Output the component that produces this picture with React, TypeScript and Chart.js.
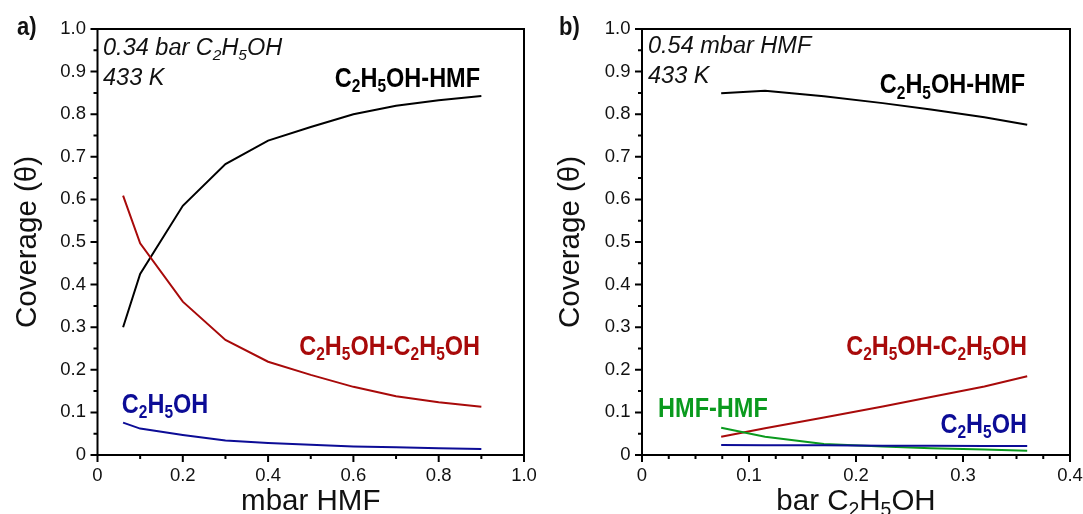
import React, { useEffect, useRef } from "react";
import { Chart, registerables } from "chart.js";
Chart.register(...registerables);

const FONT = '"Liberation Sans", Arial, Helvetica, sans-serif';

// ---------- Panel a: 0.34 bar C2H5OH, 433 K ----------
const hmfPressure = [0.06, 0.1, 0.2, 0.3, 0.4, 0.5, 0.6, 0.7, 0.8, 0.9];
const aEtohHmf = [0.3, 0.425, 0.585, 0.683, 0.738, 0.77, 0.8, 0.82, 0.833, 0.843];
const aEtohEtoh = [0.609, 0.497, 0.36, 0.27, 0.219, 0.188, 0.16, 0.138, 0.124, 0.113];
const aEtoh = [0.076, 0.062, 0.047, 0.034, 0.028, 0.024, 0.02, 0.018, 0.016, 0.014];

// ---------- Panel b: 0.54 mbar HMF, 433 K ----------
const etohPressure = [0.074, 0.115, 0.17, 0.225, 0.27, 0.32, 0.36];
const bEtohHmf = [0.849, 0.855, 0.842, 0.826, 0.811, 0.793, 0.775];
const bEtohEtoh = [0.043, 0.063, 0.088, 0.114, 0.136, 0.161, 0.185];
const bHmfHmf = [0.064, 0.043, 0.026, 0.02, 0.016, 0.013, 0.01];
const bEtoh = [0.0235, 0.023, 0.023, 0.022, 0.022, 0.021, 0.021];

// ---------- Tick labels ----------
const yTickValues = [0, 0.1, 0.2, 0.3, 0.4, 0.5, 0.6, 0.7, 0.8, 0.9, 1.0];
const yTickLabels = ["0", "0.1", "0.2", "0.3", "0.4", "0.5", "0.6", "0.7", "0.8", "0.9", "1.0"];
const aXTickValues = [0, 0.2, 0.4, 0.6, 0.8, 1.0];
const aXTickLabels = ["0", "0.2", "0.4", "0.6", "0.8", "1.0"];
const bXTickValues = [0, 0.1, 0.2, 0.3, 0.4];
const bXTickLabels = ["0", "0.1", "0.2", "0.3", "0.4"];

const BLACK = "#000000";
const RED = "#a80a0a";
const BLUE = "#0c0c96";
const GREEN = "#0a9a1e";

type Note = {
  text: string;
  x: number;
  y: number;
  align: "left" | "right";
  color: string;
  size: number;
  bold?: boolean;
  italic?: boolean;
  sx?: number;
};

function drawRich(
  ctx: CanvasRenderingContext2D,
  text: string,
  x: number,
  y: number,
  size: number,
  color: string,
  align: "left" | "right" | "center",
  bold = false,
  italic = false,
  sx = 1
) {
  const segs: { t: string; sub: boolean }[] = [];
  for (let i = 0; i < text.length; i++) {
    const c = text[i];
    if (c === "_" && i + 1 < text.length) {
      segs.push({ t: text[i + 1], sub: true });
      i++;
    } else {
      const last = segs[segs.length - 1];
      if (last && !last.sub) last.t += c;
      else segs.push({ t: c, sub: false });
    }
  }
  const fontFor = (sub: boolean) =>
    `${italic ? "italic " : ""}${bold ? "bold " : ""}${sub ? size * 0.66 : size}px ${FONT}`;
  let total = 0;
  const widths = segs.map((s) => {
    ctx.font = fontFor(s.sub);
    const w = ctx.measureText(s.t).width;
    total += w;
    return w;
  });
  const scaled = total * sx;
  const start = align === "left" ? x : align === "right" ? x - scaled : x - scaled / 2;
  ctx.save();
  ctx.translate(start, y);
  ctx.scale(sx, 1);
  ctx.fillStyle = color;
  ctx.textBaseline = "alphabetic";
  ctx.textAlign = "left";
  let cx = 0;
  segs.forEach((s, i) => {
    ctx.font = fontFor(s.sub);
    ctx.fillText(s.t, cx, s.sub ? size * 0.2 : 0);
    cx += widths[i];
  });
  ctx.restore();
}

type PanelCfg = {
  canvasWidth: number;
  yAxisWidth: number;
  padRight: number;
  xMax: number;
  xTickValues: number[];
  xTickLabels: string[];
  xMinorStep: number;
  xMajorEvery: number;
  xTitle: string;
  yTitleX: number;
  panelLabel: string;
  panelLabelX: number;
  series: { xs: number[]; ys: number[]; color: string }[];
  notes: Note[];
};

const LBL = 28;
const NARROW = 0.84;

const panelA: PanelCfg = {
  canvasWidth: 540,
  yAxisWidth: 97.5,
  padRight: 16,
  xMax: 1.0,
  xTickValues: aXTickValues,
  xTickLabels: aXTickLabels,
  xMinorStep: 0.1,
  xMajorEvery: 2,
  xTitle: "mbar HMF",
  yTitleX: 36,
  panelLabel: "a)",
  panelLabelX: 17,
  series: [
    { xs: hmfPressure, ys: aEtoh, color: BLUE },
    { xs: hmfPressure, ys: aEtohEtoh, color: RED },
    { xs: hmfPressure, ys: aEtohHmf, color: BLACK },
  ],
  notes: [
    { text: "0.34 bar C_2H_5OH", x: 0.013, y: 0.939, align: "left", color: "#111", size: 23.5, italic: true },
    { text: "433 K", x: 0.013, y: 0.8685, align: "left", color: "#111", size: 23.5, italic: true },
    { text: "C_2H_5OH-HMF", x: 0.897, y: 0.865, align: "right", color: BLACK, size: LBL, bold: true, sx: NARROW },
    { text: "C_2H_5OH-C_2H_5OH", x: 0.897, y: 0.235, align: "right", color: RED, size: LBL, bold: true, sx: NARROW },
    { text: "C_2H_5OH", x: 0.057, y: 0.099, align: "left", color: BLUE, size: LBL, bold: true, sx: NARROW },
  ],
};

const panelB: PanelCfg = {
  canvasWidth: 543,
  yAxisWidth: 102,
  padRight: 13,
  xMax: 0.4,
  xTickValues: bXTickValues,
  xTickLabels: bXTickLabels,
  xMinorStep: 0.025,
  xMajorEvery: 4,
  xTitle: "bar C_2H_5OH",
  yTitleX: 39,
  panelLabel: "b)",
  panelLabelX: 19,
  series: [
    { xs: etohPressure, ys: bEtoh, color: BLUE },
    { xs: etohPressure, ys: bHmfHmf, color: GREEN },
    { xs: etohPressure, ys: bEtohEtoh, color: RED },
    { xs: etohPressure, ys: bEtohHmf, color: BLACK },
  ],
  notes: [
    { text: "0.54 mbar HMF", x: 0.0056, y: 0.9437, align: "left", color: "#111", size: 23.5, italic: true },
    { text: "433 K", x: 0.0056, y: 0.873, align: "left", color: "#111", size: 23.5, italic: true },
    { text: "C_2H_5OH-HMF", x: 0.358, y: 0.85, align: "right", color: BLACK, size: LBL, bold: true, sx: NARROW },
    { text: "C_2H_5OH-C_2H_5OH", x: 0.3598, y: 0.235, align: "right", color: RED, size: LBL, bold: true, sx: NARROW },
    { text: "HMF-HMF", x: 0.015, y: 0.089, align: "left", color: GREEN, size: LBL, bold: true, sx: NARROW },
    { text: "C_2H_5OH", x: 0.3598, y: 0.052, align: "right", color: BLUE, size: LBL, bold: true, sx: NARROW },
  ],
};

function Panel({ cfg, left }: { cfg: PanelCfg; left: number }) {
  const ref = useRef<HTMLCanvasElement | null>(null);
  useEffect(() => {
    if (!ref.current) return;
    const decor = {
      id: "decor",
      afterDraw(chart: any) {
        const ctx: CanvasRenderingContext2D = chart.ctx;
        const a = chart.chartArea;
        const xs = chart.scales.x;
        const ys = chart.scales.y;
        ctx.save();
        // ticks
        ctx.strokeStyle = "#000";
        ctx.lineWidth = 2;
        ctx.beginPath();
        for (let i = 0; i <= 20; i++) {
          const py = ys.getPixelForValue(i * 0.05);
          const len = i % 2 === 0 ? 7 : 4;
          ctx.moveTo(a.left, py);
          ctx.lineTo(a.left - len, py);
        }
        const n = Math.round(cfg.xMax / cfg.xMinorStep);
        for (let i = 0; i <= n; i++) {
          const px = xs.getPixelForValue(i * cfg.xMinorStep);
          const len = i % cfg.xMajorEvery === 0 ? 7 : 4;
          ctx.moveTo(px, a.bottom);
          ctx.lineTo(px, a.bottom + len);
        }
        ctx.stroke();
        // frame
        ctx.lineWidth = 2;
        ctx.strokeRect(a.left, a.top, a.right - a.left, a.bottom - a.top);
        // notes
        cfg.notes.forEach((nt) => {
          drawRich(
            ctx,
            nt.text,
            xs.getPixelForValue(nt.x),
            ys.getPixelForValue(nt.y),
            nt.size,
            nt.color,
            nt.align,
            !!nt.bold,
            !!nt.italic,
            nt.sx ?? 1
          );
        });
        // axis titles
        drawRich(ctx, cfg.xTitle, (a.left + a.right) / 2, 510, 29.5, "#111", "center");
        ctx.save();
        ctx.translate(cfg.yTitleX, (a.top + a.bottom) / 2);
        ctx.rotate(-Math.PI / 2);
        drawRich(ctx, "Coverage (θ)", 0, 0, 29.5, "#111", "center");
        ctx.restore();
        // panel label
        drawRich(ctx, cfg.panelLabel, cfg.panelLabelX, 35, 25, "#111", "left", true, false, 0.88);
        ctx.restore();
      },
    };
    const chart = new Chart(ref.current, {
      type: "line",
      data: {
        datasets: cfg.series.map((s) => ({
          data: s.xs.map((x, i) => ({ x, y: s.ys[i] })),
          borderColor: s.color,
          backgroundColor: s.color,
          borderWidth: 2,
          pointRadius: 0,
          fill: false,
          tension: 0,
        })),
      },
      options: {
        responsive: false,
        animation: false,
        devicePixelRatio: 1,
        layout: { padding: { left: 0, top: 29, right: cfg.padRight, bottom: 0 } },
        plugins: { legend: { display: false }, tooltip: { enabled: false } },
        scales: {
          x: {
            type: "linear",
            min: 0,
            max: cfg.xMax,
            grid: { display: false, drawTicks: false },
            border: { display: false },
            afterBuildTicks: (s: any) => {
              s.ticks = cfg.xTickValues.map((v) => ({ value: v }));
            },
            ticks: {
              autoSkip: false,
              maxRotation: 0,
              padding: 10,
              color: "#111",
              font: { family: FONT, size: 18.5 },
              callback: (_v: any, i: number) => cfg.xTickLabels[i],
            },
            afterFit: (s: any) => {
              s.height = 59;
              s.paddingLeft = 0;
              s.paddingRight = 0;
            },
          },
          y: {
            type: "linear",
            min: 0,
            max: 1,
            grid: { display: false, drawTicks: false },
            border: { display: false },
            afterBuildTicks: (s: any) => {
              s.ticks = yTickValues.map((v) => ({ value: v }));
            },
            ticks: {
              autoSkip: false,
              padding: 11.5,
              color: "#111",
              font: { family: FONT, size: 18.5 },
              callback: (_v: any, i: number) => yTickLabels[i],
            },
            afterFit: (s: any) => {
              s.width = cfg.yAxisWidth;
              s.paddingTop = 0;
              s.paddingBottom = 0;
            },
          },
        },
      },
      plugins: [decor],
    } as any);
    return () => chart.destroy();
  }, [cfg]);
  return (
    <canvas
      ref={ref}
      width={cfg.canvasWidth}
      height={514}
      style={{ position: "absolute", left, top: 0, width: cfg.canvasWidth, height: 514, display: "block" }}
    />
  );
}

export default function App() {
  return (
    <div style={{ position: "absolute", left: 0, top: 0, width: 1083, height: 514, background: "#fff", overflow: "hidden" }}>
      <Panel cfg={panelA} left={0} />
      <Panel cfg={panelB} left={540} />
    </div>
  );
}
